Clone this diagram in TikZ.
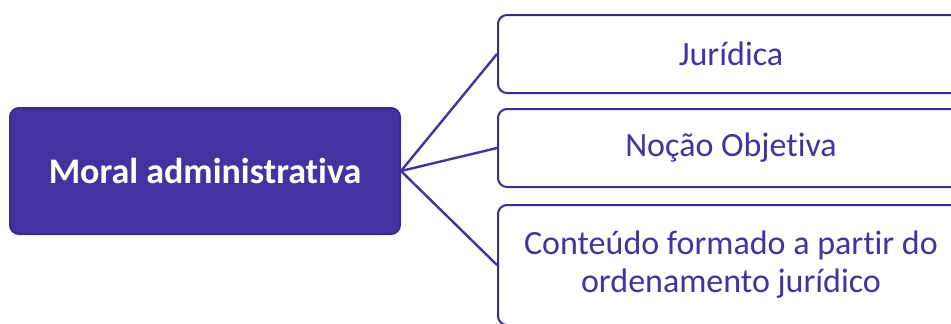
\documentclass[tikz,border=0pt]{standalone}
\usepackage{fontspec}
\setmainfont{Carlito}[Ligatures=CommonOff]
\definecolor{roxo}{HTML}{4233A0}
\definecolor{borda}{HTML}{3A2C8C}
\tikzset{
  raiz/.style={draw=borda, line width=2pt, fill=roxo, rounded corners=9pt,
    text=white, font=\fontsize{36}{40}\selectfont\bfseries,
    minimum width=390pt, minimum height=126pt, inner sep=0pt},
  ramo/.style={draw=borda, line width=2pt, fill=white, rounded corners=9pt,
    text=roxo, font=\fontsize{34}{38}\selectfont, align=center,
    minimum width=466pt, inner sep=0pt, anchor=west},
  liga/.style={draw=roxo, line width=2.4pt}
}
\begin{document}
\begin{tikzpicture}[x=1pt,y=-1pt]
		\useasboundingbox (0,0) rectangle (951,324);
		\clip (0,0) rectangle (951,324);
		\node [raiz] (moral) at (205,171) {Moral administrativa};
		\node [ramo, minimum height=78pt] (jur) at (497,54) {Jurídica};
		\node [ramo, minimum height=78pt] (nocao) at (497,148) {Noção Objetiva};
		\node [ramo, minimum height=120pt] (cont) at (497,265) {Conteúdo formado a partir do\\ordenamento jurídico};
		\draw [liga] (moral.east) -- (jur.west);
		\draw [liga] (moral.east) -- (nocao.west);
		\draw [liga] (moral.east) -- (cont.west);
		\end{tikzpicture}
\end{document}
